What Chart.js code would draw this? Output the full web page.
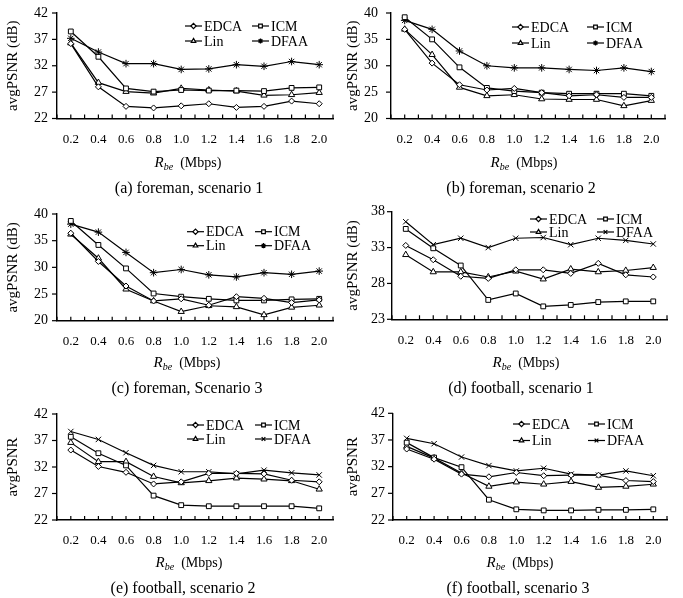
<!DOCTYPE html>
<html>
<head>
<meta charset="utf-8">
<title>avgPSNR vs R_be</title>
<script src="https://cdn.jsdelivr.net/npm/chart.js@4/dist/chart.umd.min.js"></script>
<style>
  body { margin: 0; background: #fff; }
  #page { position: relative; width: 683px; height: 598px; overflow: hidden; font-family: "Liberation Serif", "Times New Roman", serif; color: #000; }
  #page canvas { position: absolute; }
  .xt, .cap { position: absolute; white-space: nowrap; line-height: 1; transform: translate(-50%, -50%); }
  .xt { font-size: 14px; }
  .xt i { font-size: 15px; }
  .xt sub { font-size: 10px; font-style: italic; vertical-align: -3px; }
  .cap { font-size: 16px; }
</style>
</head>
<body>
<div id="page"></div>
<script>
// x values (Mbps) shared by every panel
const rates = [0.2, 0.4, 0.6, 0.8, 1.0, 1.2, 1.4, 1.6, 1.8, 2.0];
const schemes = ['EDCA', 'ICM', 'Lin', 'DFAA'];

// (a) foreman, scenario 1
const aEDCA = [36.2, 28.0, 24.3, 24.0, 24.4, 24.8, 24.1, 24.3, 25.3, 24.8];
const aICM  = [38.5, 33.7, 27.7, 27.1, 27.4, 27.3, 27.3, 27.2, 27.8, 27.9];
const aLin  = [36.3, 28.8, 27.1, 26.8, 27.7, 27.4, 27.2, 26.4, 26.5, 26.9];
const aDFAA = [37.2, 34.6, 32.4, 32.4, 31.3, 31.4, 32.2, 31.9, 32.8, 32.2];

// (b) foreman, scenario 2
const bEDCA = [36.9, 30.5, 26.4, 25.4, 25.7, 24.9, 24.3, 24.5, 24.0, 24.0];
const bICM  = [39.2, 35.0, 29.7, 25.8, 25.2, 24.9, 24.7, 24.7, 24.7, 24.3];
const bLin  = [36.9, 32.1, 25.9, 24.3, 24.5, 23.7, 23.6, 23.6, 22.4, 23.4];
const bDFAA = [38.6, 36.9, 32.8, 30.0, 29.6, 29.6, 29.3, 29.1, 29.6, 28.9];

// (c) foreman, scenario 3
const cEDCA = [36.4, 31.1, 26.5, 23.7, 24.1, 22.9, 24.5, 24.2, 23.4, 23.9];
const cICM  = [38.7, 34.2, 29.8, 25.1, 24.5, 24.1, 23.8, 23.8, 24.0, 24.1];
const cLin  = [36.2, 31.7, 25.9, 23.7, 21.7, 22.8, 22.6, 21.1, 22.5, 22.9];
const cDFAA = [38.1, 36.6, 32.8, 29.0, 29.6, 28.6, 28.2, 29.0, 28.7, 29.3];

// (d) football, scenario 1
const dEDCA = [33.3, 31.3, 29.0, 28.7, 29.9, 29.9, 29.4, 30.8, 29.2, 28.9];
const dICM  = [35.6, 32.9, 30.5, 25.7, 26.6, 24.8, 25.0, 25.4, 25.5, 25.5];
const dLin  = [32.0, 29.6, 29.6, 28.9, 29.7, 28.6, 30.0, 29.6, 29.8, 30.2];
const dDFAA = [36.6, 33.4, 34.3, 33.0, 34.3, 34.4, 33.4, 34.3, 34.0, 33.5];

// (e) football, scenario 2
const eEDCA = [35.2, 32.1, 31.0, 28.8, 29.2, 30.8, 30.8, 30.7, 29.5, 29.2];
const eICM  = [37.7, 34.6, 32.3, 26.6, 24.8, 24.6, 24.6, 24.6, 24.6, 24.2];
const eLin  = [36.6, 33.0, 33.0, 30.2, 29.0, 29.4, 29.9, 29.7, 29.4, 27.8];
const eDFAA = [38.7, 37.2, 34.7, 32.3, 31.1, 31.1, 30.7, 31.4, 30.9, 30.5];

// (f) football, scenario 3
const fEDCA = [35.3, 33.4, 30.6, 30.1, 30.9, 30.3, 30.4, 30.4, 29.4, 29.2];
const fICM  = [36.5, 33.7, 31.9, 25.8, 24.0, 23.8, 23.8, 23.9, 23.9, 24.0];
const fLin  = [35.8, 33.6, 30.8, 28.3, 29.1, 28.7, 29.2, 28.1, 28.3, 28.7];
const fDFAA = [37.3, 36.3, 33.8, 32.2, 31.2, 31.7, 30.6, 30.4, 31.2, 30.3];

const FONT = '"Liberation Serif", "Times New Roman", serif';

// panel layout: canvas box, plot area (l, t, r, b), legend (x, y, col gap, row gap)
const panels = [
  { left: 0,   top: 0,   w: 340, h: 200, area: [57, 13, 333, 118.5], yMin: 22, yMax: 42, yPad: 4,
    yTitle: 'avgPSNR (dB)', star: true, legend: [185, 26, 67, 15], titleX: 188, capX: 189,
    caption: '(a) foreman, scenario 1', series: [aEDCA, aICM, aLin, aDFAA] },
  { left: 340, top: 0,   w: 343, h: 200, area: [51, 13, 325, 118.5], yMin: 20, yMax: 40, yPad: 8,
    yTitle: 'avgPSNR (dB)', star: true, legend: [172, 27, 75, 16], titleX: 184, capX: 181,
    caption: '(b) foreman, scenario 2', series: [bEDCA, bICM, bLin, bDFAA] },
  { left: 0,   top: 200, w: 340, h: 200, area: [57, 14, 333, 120.7], yMin: 20, yMax: 40, yPad: 4,
    yTitle: 'avgPSNR (dB)', star: true, legend: [187, 31.7, 68, 14], titleX: 187, capX: 187,
    caption: '(c) foreman, Scenario 3', series: [cEDCA, cICM, cLin, cDFAA] },
  { left: 340, top: 200, w: 343, h: 200, area: [52, 11.7, 327, 119.3], yMin: 23, yMax: 38, yPad: 2,
    yTitle: 'avgPSNR (dB)', star: false, legend: [190, 19, 67, 13], titleX: 186, capX: 181,
    caption: '(d) football, scenario 1', series: [dEDCA, dICM, dLin, dDFAA] },
  { left: 0,   top: 400, w: 340, h: 198, area: [57, 14, 333, 120], yMin: 22, yMax: 42, yPad: 4,
    yTitle: 'avgPSNR', star: false, legend: [187, 25, 68, 14], titleX: 189, capX: 183,
    caption: '(e) football, scenario 2', series: [eEDCA, eICM, eLin, eDFAA] },
  { left: 340, top: 400, w: 343, h: 198, area: [53, 13.3, 327, 120], yMin: 22, yMax: 42, yPad: 3,
    yTitle: 'avgPSNR', star: false, legend: [173, 24, 75, 16.5], titleX: 180, capX: 178,
    caption: '(f) football, scenario 3', series: [fEDCA, fICM, fLin, fDFAA] }
];

// short axis tick marks taken from the chart's scales, then the
// legend inside the plot area: two columns of line + marker + name
const decorations = {
  id: 'decorations',
  afterDraw(chart, args, opts) {
    const ctx = chart.ctx;
    const sx = chart.scales.x;
    const sy = chart.scales.y;
    const area = chart.chartArea;
    ctx.save();
    ctx.strokeStyle = '#000';
    ctx.lineWidth = 1.2;
    // x ticks point up into the plot, y ticks point left
    for (const t of sx.ticks) {
      const px = sx.getPixelForValue(t.value);
      ctx.beginPath();
      ctx.moveTo(px, area.bottom);
      ctx.lineTo(px, area.bottom - 4);
      ctx.stroke();
    }
    for (const t of sy.ticks) {
      const py = sy.getPixelForValue(t.value);
      ctx.beginPath();
      ctx.moveTo(area.left, py);
      ctx.lineTo(area.left - 5, py);
      ctx.stroke();
    }

    ctx.font = '14px ' + FONT;
    ctx.textBaseline = 'middle';
    chart.data.datasets.forEach((ds, i) => {
      const x = opts.x + (i % 2) * opts.dx;
      const y = opts.y + Math.floor(i / 2) * opts.dy;
      ctx.beginPath();
      ctx.moveTo(x, y);
      ctx.lineTo(x + 17, y);
      ctx.stroke();
      ctx.fillStyle = '#fff';
      Chart.helpers.drawPoint(ctx, { pointStyle: ds.pointStyle, radius: 2.6, borderWidth: 1, rotation: 0 }, x + 8.5, y);
      ctx.fillStyle = '#000';
      ctx.fillText(ds.label, x + 19, y + 1);
    });
    ctx.restore();
  }
};

const page = document.getElementById('page');

panels.forEach(p => {
  const cv = document.createElement('canvas');
  cv.width = p.w;
  cv.height = p.h;
  cv.style.left = p.left + 'px';
  cv.style.top = p.top + 'px';
  cv.style.width = p.w + 'px';
  cv.style.height = p.h + 'px';
  page.appendChild(cv);

  const styles = ['rectRot', 'rect', 'triangle', p.star ? 'star' : 'crossRot'];
  const radii = [3, 3.4, 3.6, 3.8];

  new Chart(cv, {
    type: 'line',
    data: {
      datasets: schemes.map((name, i) => ({
        label: name,
        data: rates.map((r, k) => ({ x: r, y: p.series[i][k] })),
        borderColor: '#000',
        borderWidth: 1.2,
        pointStyle: styles[i],
        pointRadius: radii[i],
        pointBackgroundColor: '#fff',
        pointBorderColor: '#000',
        pointBorderWidth: 1,
        tension: 0,
        fill: false
      }))
    },
    options: {
      responsive: false,
      animation: false,
      devicePixelRatio: 1,
      layout: {
        padding: { left: 0, top: p.area[1], right: p.w - p.area[2], bottom: p.h - p.area[3] - 40 }
      },
      plugins: {
        legend: { display: false },
        tooltip: { enabled: false },
        decorations: { x: p.legend[0], y: p.legend[1], dx: p.legend[2], dy: p.legend[3] }
      },
      scales: {
        x: {
          type: 'linear',
          min: 0.1,
          max: 2.1,
          afterFit: s => { s.height = 40; s.paddingLeft = 0; s.paddingRight = 0; },
          border: { display: true, color: '#000', width: 1.4 },
          grid: { display: false, drawTicks: false, tickLength: 0 },
          ticks: {
            stepSize: 0.1,
            autoSkip: false,
            maxRotation: 0,
            minRotation: 0,
            padding: 13,
            color: '#000',
            font: { family: FONT, size: 13 },
            callback: v => {
              const k = Math.round(v * 10);
              return (k % 2 === 0 && k >= 2 && k <= 20) ? (k / 10).toFixed(1) : '';
            }
          }
        },
        y: {
          min: p.yMin,
          max: p.yMax,
          afterFit: s => { s.width = p.area[0]; s.paddingTop = 0; s.paddingBottom = 0; },
          border: { color: '#000', width: 1.4 },
          grid: { display: false, drawTicks: false, tickLength: 0 },
          ticks: { stepSize: 5, padding: p.yPad + 5, color: '#000', font: { family: FONT, size: 14 } },
          title: {
            display: true,
            text: p.yTitle,
            color: '#000',
            font: { family: FONT, size: 15 },
            padding: { top: 4, bottom: 0 }
          }
        }
      }
    },
    plugins: [decorations]
  });

  // x-axis title with subscript, and the panel caption
  const xt = document.createElement('div');
  xt.className = 'xt';
  xt.innerHTML = '<i>R</i><sub>be</sub>&nbsp;&nbsp;(Mbps)';
  xt.style.left = (p.left + p.titleX) + 'px';
  xt.style.top = (p.top + 163) + 'px';
  page.appendChild(xt);

  const cap = document.createElement('div');
  cap.className = 'cap';
  cap.textContent = p.caption;
  cap.style.left = (p.left + p.capX) + 'px';
  cap.style.top = (p.top + 188) + 'px';
  page.appendChild(cap);
});
</script>
</body>
</html>
